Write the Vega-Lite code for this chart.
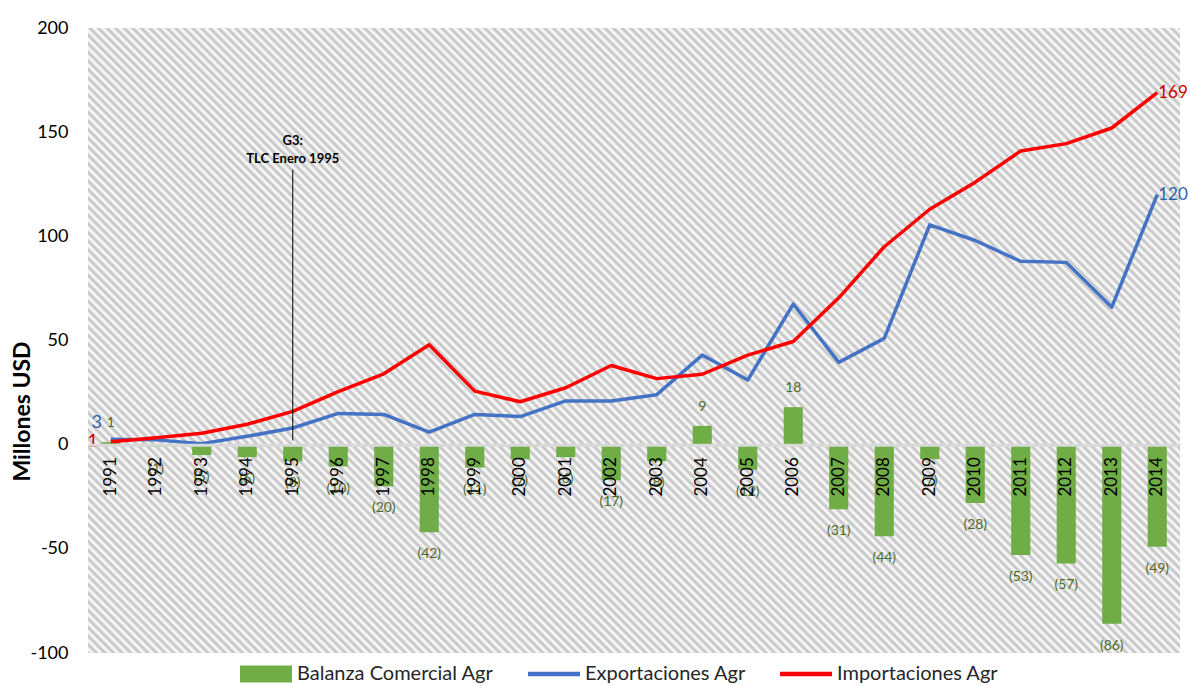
{
"$schema":"https://vega.github.io/schema/vega-lite/v6.json",
"width":1092,"height":625,
"autosize":{"type":"none"},
"padding":{"left":88,"top":28,"right":10,"bottom":33},
"background":"white",
"config":{"font":"Lato","view":{"stroke":null,"fill":{"gradient":"linear","x1":0,"y1":1,"x2":1.18439,"y2":0.32213,"stops":[
{"offset":0,"color":"silver"},{"offset":0.0025,"color":"white"},{"offset":0.005,"color":"silver"},{"offset":0.0075,"color":"white"},
{"offset":0.01,"color":"silver"},{"offset":0.0125,"color":"white"},{"offset":0.015,"color":"silver"},{"offset":0.0175,"color":"white"},
{"offset":0.02,"color":"silver"},{"offset":0.0225,"color":"white"},{"offset":0.025,"color":"silver"},{"offset":0.0275,"color":"white"},
{"offset":0.03,"color":"silver"},{"offset":0.0325,"color":"white"},{"offset":0.035,"color":"silver"},{"offset":0.0375,"color":"white"},
{"offset":0.04,"color":"silver"},{"offset":0.0425,"color":"white"},{"offset":0.045,"color":"silver"},{"offset":0.0475,"color":"white"},
{"offset":0.05,"color":"silver"},{"offset":0.0525,"color":"white"},{"offset":0.055,"color":"silver"},{"offset":0.0575,"color":"white"},
{"offset":0.06,"color":"silver"},{"offset":0.0625,"color":"white"},{"offset":0.065,"color":"silver"},{"offset":0.0675,"color":"white"},
{"offset":0.07,"color":"silver"},{"offset":0.0725,"color":"white"},{"offset":0.075,"color":"silver"},{"offset":0.0775,"color":"white"},
{"offset":0.08,"color":"silver"},{"offset":0.0825,"color":"white"},{"offset":0.085,"color":"silver"},{"offset":0.0875,"color":"white"},
{"offset":0.09,"color":"silver"},{"offset":0.0925,"color":"white"},{"offset":0.095,"color":"silver"},{"offset":0.0975,"color":"white"},
{"offset":0.10,"color":"silver"},{"offset":0.1025,"color":"white"},{"offset":0.105,"color":"silver"},{"offset":0.1075,"color":"white"},
{"offset":0.11,"color":"silver"},{"offset":0.1125,"color":"white"},{"offset":0.115,"color":"silver"},{"offset":0.1175,"color":"white"},
{"offset":0.12,"color":"silver"},{"offset":0.1225,"color":"white"},{"offset":0.125,"color":"silver"},{"offset":0.1275,"color":"white"},
{"offset":0.13,"color":"silver"},{"offset":0.1325,"color":"white"},{"offset":0.135,"color":"silver"},{"offset":0.1375,"color":"white"},
{"offset":0.14,"color":"silver"},{"offset":0.1425,"color":"white"},{"offset":0.145,"color":"silver"},{"offset":0.1475,"color":"white"},
{"offset":0.15,"color":"silver"},{"offset":0.1525,"color":"white"},{"offset":0.155,"color":"silver"},{"offset":0.1575,"color":"white"},
{"offset":0.16,"color":"silver"},{"offset":0.1625,"color":"white"},{"offset":0.165,"color":"silver"},{"offset":0.1675,"color":"white"},
{"offset":0.17,"color":"silver"},{"offset":0.1725,"color":"white"},{"offset":0.175,"color":"silver"},{"offset":0.1775,"color":"white"},
{"offset":0.18,"color":"silver"},{"offset":0.1825,"color":"white"},{"offset":0.185,"color":"silver"},{"offset":0.1875,"color":"white"},
{"offset":0.19,"color":"silver"},{"offset":0.1925,"color":"white"},{"offset":0.195,"color":"silver"},{"offset":0.1975,"color":"white"},
{"offset":0.20,"color":"silver"},{"offset":0.2025,"color":"white"},{"offset":0.205,"color":"silver"},{"offset":0.2075,"color":"white"},
{"offset":0.21,"color":"silver"},{"offset":0.2125,"color":"white"},{"offset":0.215,"color":"silver"},{"offset":0.2175,"color":"white"},
{"offset":0.22,"color":"silver"},{"offset":0.2225,"color":"white"},{"offset":0.225,"color":"silver"},{"offset":0.2275,"color":"white"},
{"offset":0.23,"color":"silver"},{"offset":0.2325,"color":"white"},{"offset":0.235,"color":"silver"},{"offset":0.2375,"color":"white"},
{"offset":0.24,"color":"silver"},{"offset":0.2425,"color":"white"},{"offset":0.245,"color":"silver"},{"offset":0.2475,"color":"white"},
{"offset":0.25,"color":"silver"},{"offset":0.2525,"color":"white"},{"offset":0.255,"color":"silver"},{"offset":0.2575,"color":"white"},
{"offset":0.26,"color":"silver"},{"offset":0.2625,"color":"white"},{"offset":0.265,"color":"silver"},{"offset":0.2675,"color":"white"},
{"offset":0.27,"color":"silver"},{"offset":0.2725,"color":"white"},{"offset":0.275,"color":"silver"},{"offset":0.2775,"color":"white"},
{"offset":0.28,"color":"silver"},{"offset":0.2825,"color":"white"},{"offset":0.285,"color":"silver"},{"offset":0.2875,"color":"white"},
{"offset":0.29,"color":"silver"},{"offset":0.2925,"color":"white"},{"offset":0.295,"color":"silver"},{"offset":0.2975,"color":"white"},
{"offset":0.30,"color":"silver"},{"offset":0.3025,"color":"white"},{"offset":0.305,"color":"silver"},{"offset":0.3075,"color":"white"},
{"offset":0.31,"color":"silver"},{"offset":0.3125,"color":"white"},{"offset":0.315,"color":"silver"},{"offset":0.3175,"color":"white"},
{"offset":0.32,"color":"silver"},{"offset":0.3225,"color":"white"},{"offset":0.325,"color":"silver"},{"offset":0.3275,"color":"white"},
{"offset":0.33,"color":"silver"},{"offset":0.3325,"color":"white"},{"offset":0.335,"color":"silver"},{"offset":0.3375,"color":"white"},
{"offset":0.34,"color":"silver"},{"offset":0.3425,"color":"white"},{"offset":0.345,"color":"silver"},{"offset":0.3475,"color":"white"},
{"offset":0.35,"color":"silver"},{"offset":0.3525,"color":"white"},{"offset":0.355,"color":"silver"},{"offset":0.3575,"color":"white"},
{"offset":0.36,"color":"silver"},{"offset":0.3625,"color":"white"},{"offset":0.365,"color":"silver"},{"offset":0.3675,"color":"white"},
{"offset":0.37,"color":"silver"},{"offset":0.3725,"color":"white"},{"offset":0.375,"color":"silver"},{"offset":0.3775,"color":"white"},
{"offset":0.38,"color":"silver"},{"offset":0.3825,"color":"white"},{"offset":0.385,"color":"silver"},{"offset":0.3875,"color":"white"},
{"offset":0.39,"color":"silver"},{"offset":0.3925,"color":"white"},{"offset":0.395,"color":"silver"},{"offset":0.3975,"color":"white"},
{"offset":0.40,"color":"silver"},{"offset":0.4025,"color":"white"},{"offset":0.405,"color":"silver"},{"offset":0.4075,"color":"white"},
{"offset":0.41,"color":"silver"},{"offset":0.4125,"color":"white"},{"offset":0.415,"color":"silver"},{"offset":0.4175,"color":"white"},
{"offset":0.42,"color":"silver"},{"offset":0.4225,"color":"white"},{"offset":0.425,"color":"silver"},{"offset":0.4275,"color":"white"},
{"offset":0.43,"color":"silver"},{"offset":0.4325,"color":"white"},{"offset":0.435,"color":"silver"},{"offset":0.4375,"color":"white"},
{"offset":0.44,"color":"silver"},{"offset":0.4425,"color":"white"},{"offset":0.445,"color":"silver"},{"offset":0.4475,"color":"white"},
{"offset":0.45,"color":"silver"},{"offset":0.4525,"color":"white"},{"offset":0.455,"color":"silver"},{"offset":0.4575,"color":"white"},
{"offset":0.46,"color":"silver"},{"offset":0.4625,"color":"white"},{"offset":0.465,"color":"silver"},{"offset":0.4675,"color":"white"},
{"offset":0.47,"color":"silver"},{"offset":0.4725,"color":"white"},{"offset":0.475,"color":"silver"},{"offset":0.4775,"color":"white"},
{"offset":0.48,"color":"silver"},{"offset":0.4825,"color":"white"},{"offset":0.485,"color":"silver"},{"offset":0.4875,"color":"white"},
{"offset":0.49,"color":"silver"},{"offset":0.4925,"color":"white"},{"offset":0.495,"color":"silver"},{"offset":0.4975,"color":"white"},
{"offset":0.50,"color":"silver"},{"offset":0.5025,"color":"white"},{"offset":0.505,"color":"silver"},{"offset":0.5075,"color":"white"},
{"offset":0.51,"color":"silver"},{"offset":0.5125,"color":"white"},{"offset":0.515,"color":"silver"},{"offset":0.5175,"color":"white"},
{"offset":0.52,"color":"silver"},{"offset":0.5225,"color":"white"},{"offset":0.525,"color":"silver"},{"offset":0.5275,"color":"white"},
{"offset":0.53,"color":"silver"},{"offset":0.5325,"color":"white"},{"offset":0.535,"color":"silver"},{"offset":0.5375,"color":"white"},
{"offset":0.54,"color":"silver"},{"offset":0.5425,"color":"white"},{"offset":0.545,"color":"silver"},{"offset":0.5475,"color":"white"},
{"offset":0.55,"color":"silver"},{"offset":0.5525,"color":"white"},{"offset":0.555,"color":"silver"},{"offset":0.5575,"color":"white"},
{"offset":0.56,"color":"silver"},{"offset":0.5625,"color":"white"},{"offset":0.565,"color":"silver"},{"offset":0.5675,"color":"white"},
{"offset":0.57,"color":"silver"},{"offset":0.5725,"color":"white"},{"offset":0.575,"color":"silver"},{"offset":0.5775,"color":"white"},
{"offset":0.58,"color":"silver"},{"offset":0.5825,"color":"white"},{"offset":0.585,"color":"silver"},{"offset":0.5875,"color":"white"},
{"offset":0.59,"color":"silver"},{"offset":0.5925,"color":"white"},{"offset":0.595,"color":"silver"},{"offset":0.5975,"color":"white"},
{"offset":0.60,"color":"silver"},{"offset":0.6025,"color":"white"},{"offset":0.605,"color":"silver"},{"offset":0.6075,"color":"white"},
{"offset":0.61,"color":"silver"},{"offset":0.6125,"color":"white"},{"offset":0.615,"color":"silver"},{"offset":0.6175,"color":"white"},
{"offset":0.62,"color":"silver"},{"offset":0.6225,"color":"white"},{"offset":0.625,"color":"silver"},{"offset":0.6275,"color":"white"},
{"offset":0.63,"color":"silver"},{"offset":0.6325,"color":"white"},{"offset":0.635,"color":"silver"},{"offset":0.6375,"color":"white"},
{"offset":0.64,"color":"silver"},{"offset":0.6425,"color":"white"},{"offset":0.645,"color":"silver"},{"offset":0.6475,"color":"white"},
{"offset":0.65,"color":"silver"},{"offset":0.6525,"color":"white"},{"offset":0.655,"color":"silver"},{"offset":0.6575,"color":"white"},
{"offset":0.66,"color":"silver"},{"offset":0.6625,"color":"white"},{"offset":0.665,"color":"silver"},{"offset":0.6675,"color":"white"},
{"offset":0.67,"color":"silver"},{"offset":0.6725,"color":"white"},{"offset":0.675,"color":"silver"},{"offset":0.6775,"color":"white"},
{"offset":0.68,"color":"silver"},{"offset":0.6825,"color":"white"},{"offset":0.685,"color":"silver"},{"offset":0.6875,"color":"white"},
{"offset":0.69,"color":"silver"},{"offset":0.6925,"color":"white"},{"offset":0.695,"color":"silver"},{"offset":0.6975,"color":"white"},
{"offset":0.70,"color":"silver"},{"offset":0.7025,"color":"white"},{"offset":0.705,"color":"silver"},{"offset":0.7075,"color":"white"},
{"offset":0.71,"color":"silver"},{"offset":0.7125,"color":"white"},{"offset":0.715,"color":"silver"},{"offset":0.7175,"color":"white"},
{"offset":0.72,"color":"silver"},{"offset":0.7225,"color":"white"},{"offset":0.725,"color":"silver"},{"offset":0.7275,"color":"white"},
{"offset":0.73,"color":"silver"},{"offset":0.7325,"color":"white"},{"offset":0.735,"color":"silver"},{"offset":0.7375,"color":"white"},
{"offset":0.74,"color":"silver"},{"offset":0.7425,"color":"white"},{"offset":0.745,"color":"silver"},{"offset":0.7475,"color":"white"},
{"offset":0.75,"color":"silver"},{"offset":0.7525,"color":"white"},{"offset":0.755,"color":"silver"},{"offset":0.7575,"color":"white"},
{"offset":0.76,"color":"silver"},{"offset":0.7625,"color":"white"},{"offset":0.765,"color":"silver"},{"offset":0.7675,"color":"white"},
{"offset":0.77,"color":"silver"},{"offset":0.7725,"color":"white"},{"offset":0.775,"color":"silver"},{"offset":0.7775,"color":"white"},
{"offset":0.78,"color":"silver"},{"offset":0.7825,"color":"white"},{"offset":0.785,"color":"silver"},{"offset":0.7875,"color":"white"},
{"offset":0.79,"color":"silver"},{"offset":0.7925,"color":"white"},{"offset":0.795,"color":"silver"},{"offset":0.7975,"color":"white"},
{"offset":0.80,"color":"silver"},{"offset":0.8025,"color":"white"},{"offset":0.805,"color":"silver"},{"offset":0.8075,"color":"white"},
{"offset":0.81,"color":"silver"},{"offset":0.8125,"color":"white"},{"offset":0.815,"color":"silver"},{"offset":0.8175,"color":"white"},
{"offset":0.82,"color":"silver"},{"offset":0.8225,"color":"white"},{"offset":0.825,"color":"silver"},{"offset":0.8275,"color":"white"},
{"offset":0.83,"color":"silver"},{"offset":0.8325,"color":"white"},{"offset":0.835,"color":"silver"},{"offset":0.8375,"color":"white"},
{"offset":0.84,"color":"silver"},{"offset":0.8425,"color":"white"},{"offset":0.845,"color":"silver"},{"offset":0.8475,"color":"white"},
{"offset":0.85,"color":"silver"},{"offset":0.8525,"color":"white"},{"offset":0.855,"color":"silver"},{"offset":0.8575,"color":"white"},
{"offset":0.86,"color":"silver"},{"offset":0.8625,"color":"white"},{"offset":0.865,"color":"silver"},{"offset":0.8675,"color":"white"},
{"offset":0.87,"color":"silver"},{"offset":0.8725,"color":"white"},{"offset":0.875,"color":"silver"},{"offset":0.8775,"color":"white"},
{"offset":0.88,"color":"silver"},{"offset":0.8825,"color":"white"},{"offset":0.885,"color":"silver"},{"offset":0.8875,"color":"white"},
{"offset":0.89,"color":"silver"},{"offset":0.8925,"color":"white"},{"offset":0.895,"color":"silver"},{"offset":0.8975,"color":"white"},
{"offset":0.90,"color":"silver"},{"offset":0.9025,"color":"white"},{"offset":0.905,"color":"silver"},{"offset":0.9075,"color":"white"},
{"offset":0.91,"color":"silver"},{"offset":0.9125,"color":"white"},{"offset":0.915,"color":"silver"},{"offset":0.9175,"color":"white"},
{"offset":0.92,"color":"silver"},{"offset":0.9225,"color":"white"},{"offset":0.925,"color":"silver"},{"offset":0.9275,"color":"white"},
{"offset":0.93,"color":"silver"},{"offset":0.9325,"color":"white"},{"offset":0.935,"color":"silver"},{"offset":0.9375,"color":"white"},
{"offset":0.94,"color":"silver"},{"offset":0.9425,"color":"white"},{"offset":0.945,"color":"silver"},{"offset":0.9475,"color":"white"},
{"offset":0.95,"color":"silver"},{"offset":0.9525,"color":"white"},{"offset":0.955,"color":"silver"},{"offset":0.9575,"color":"white"},
{"offset":0.96,"color":"silver"},{"offset":0.9625,"color":"white"},{"offset":0.965,"color":"silver"},{"offset":0.9675,"color":"white"},
{"offset":0.97,"color":"silver"},{"offset":0.9725,"color":"white"},{"offset":0.975,"color":"silver"},{"offset":0.9775,"color":"white"},
{"offset":0.98,"color":"silver"},{"offset":0.9825,"color":"white"},{"offset":0.985,"color":"silver"},{"offset":0.9875,"color":"white"},
{"offset":0.99,"color":"silver"},{"offset":0.9925,"color":"white"},{"offset":0.995,"color":"silver"},{"offset":0.9975,"color":"white"},
{"offset":1,"color":"silver"}]}},
"axis":{"grid":false,"ticks":false}},
"data":{"values":[
{"year":1991,"series":"Balanza Comercial Agr","value":1.2,"label":"1"},
{"year":1992,"series":"Balanza Comercial Agr","value":-1,"label":"(1)"},
{"year":1993,"series":"Balanza Comercial Agr","value":-5,"label":"(5)"},
{"year":1994,"series":"Balanza Comercial Agr","value":-6,"label":"(6)"},
{"year":1995,"series":"Balanza Comercial Agr","value":-8,"label":"(8)"},
{"year":1996,"series":"Balanza Comercial Agr","value":-10.5,"label":"(10)"},
{"year":1997,"series":"Balanza Comercial Agr","value":-20,"label":"(20)"},
{"year":1998,"series":"Balanza Comercial Agr","value":-42,"label":"(42)"},
{"year":1999,"series":"Balanza Comercial Agr","value":-11,"label":"(11)"},
{"year":2000,"series":"Balanza Comercial Agr","value":-7,"label":"(7)"},
{"year":2001,"series":"Balanza Comercial Agr","value":-6,"label":"(6)"},
{"year":2002,"series":"Balanza Comercial Agr","value":-17,"label":"(17)"},
{"year":2003,"series":"Balanza Comercial Agr","value":-8,"label":"(8)"},
{"year":2004,"series":"Balanza Comercial Agr","value":9,"label":"9"},
{"year":2005,"series":"Balanza Comercial Agr","value":-12,"label":"(12)"},
{"year":2006,"series":"Balanza Comercial Agr","value":18,"label":"18"},
{"year":2007,"series":"Balanza Comercial Agr","value":-31,"label":"(31)"},
{"year":2008,"series":"Balanza Comercial Agr","value":-44,"label":"(44)"},
{"year":2009,"series":"Balanza Comercial Agr","value":-7,"label":"(7)"},
{"year":2010,"series":"Balanza Comercial Agr","value":-28,"label":"(28)"},
{"year":2011,"series":"Balanza Comercial Agr","value":-53,"label":"(53)"},
{"year":2012,"series":"Balanza Comercial Agr","value":-57,"label":"(57)"},
{"year":2013,"series":"Balanza Comercial Agr","value":-86,"label":"(86)"},
{"year":2014,"series":"Balanza Comercial Agr","value":-49,"label":"(49)"},
{"year":1991,"series":"Exportaciones Agr","value":2.6},
{"year":1992,"series":"Exportaciones Agr","value":2.3},
{"year":1993,"series":"Exportaciones Agr","value":0.5},
{"year":1994,"series":"Exportaciones Agr","value":4},
{"year":1995,"series":"Exportaciones Agr","value":8},
{"year":1996,"series":"Exportaciones Agr","value":15},
{"year":1997,"series":"Exportaciones Agr","value":14.5},
{"year":1998,"series":"Exportaciones Agr","value":6},
{"year":1999,"series":"Exportaciones Agr","value":14.5},
{"year":2000,"series":"Exportaciones Agr","value":13.5},
{"year":2001,"series":"Exportaciones Agr","value":21},
{"year":2002,"series":"Exportaciones Agr","value":21},
{"year":2003,"series":"Exportaciones Agr","value":24},
{"year":2004,"series":"Exportaciones Agr","value":43},
{"year":2005,"series":"Exportaciones Agr","value":31},
{"year":2006,"series":"Exportaciones Agr","value":67.5},
{"year":2007,"series":"Exportaciones Agr","value":39.5},
{"year":2008,"series":"Exportaciones Agr","value":51},
{"year":2009,"series":"Exportaciones Agr","value":105.5},
{"year":2010,"series":"Exportaciones Agr","value":98},
{"year":2011,"series":"Exportaciones Agr","value":88},
{"year":2012,"series":"Exportaciones Agr","value":87.5},
{"year":2013,"series":"Exportaciones Agr","value":66},
{"year":2014,"series":"Exportaciones Agr","value":120},
{"year":1991,"series":"Importaciones Agr","value":1.4},
{"year":1992,"series":"Importaciones Agr","value":3.3},
{"year":1993,"series":"Importaciones Agr","value":5.5},
{"year":1994,"series":"Importaciones Agr","value":9.8},
{"year":1995,"series":"Importaciones Agr","value":16},
{"year":1996,"series":"Importaciones Agr","value":25.5},
{"year":1997,"series":"Importaciones Agr","value":34},
{"year":1998,"series":"Importaciones Agr","value":48},
{"year":1999,"series":"Importaciones Agr","value":25.7},
{"year":2000,"series":"Importaciones Agr","value":20.6},
{"year":2001,"series":"Importaciones Agr","value":27.3},
{"year":2002,"series":"Importaciones Agr","value":38},
{"year":2003,"series":"Importaciones Agr","value":31.7},
{"year":2004,"series":"Importaciones Agr","value":33.8},
{"year":2005,"series":"Importaciones Agr","value":43},
{"year":2006,"series":"Importaciones Agr","value":49.5},
{"year":2007,"series":"Importaciones Agr","value":70.5},
{"year":2008,"series":"Importaciones Agr","value":95},
{"year":2009,"series":"Importaciones Agr","value":113},
{"year":2010,"series":"Importaciones Agr","value":126},
{"year":2011,"series":"Importaciones Agr","value":141},
{"year":2012,"series":"Importaciones Agr","value":144.5},
{"year":2013,"series":"Importaciones Agr","value":152},
{"year":2014,"series":"Importaciones Agr","value":169}
]},
"encoding":{"x":{"field":"year","type":"ordinal","scale":{"paddingInner":0.58,"paddingOuter":0.29},
"axis":{"orient":"bottom","offset":-208.33,"title":null,"labelAngle":-90,"labelFontSize":17,"labelColor":"#000","labelPadding":12,"ticks":false,"domainColor":"#d9d9d9","domainWidth":3,"zindex":1}}},
"layer":[
{"transform":[{"filter":"datum.series === 'Balanza Comercial Agr'"}],
"mark":{"type":"bar","color":"#70ad47"},
"encoding":{"y":{"field":"value","type":"quantitative","scale":{"domain":[-100,200],"nice":false},
"axis":{"values":[-100,-50,0,50,100,150,200],"labelExpr":"datum.value < 0 ? '-' + abs(datum.value) : '' + datum.value","labelFontSize":18,"labelColor":"#000","labelPadding":20,"domain":false,"ticks":false,"grid":false,
"title":"Millones USD","titleFontSize":23,"titleFontWeight":"bold","titleColor":"#000","titleX":-66,"titleY":383,"titleAngle":-90,"titleAlign":"center","titleBaseline":"middle"}},
"color":{"field":"series","type":"nominal","scale":{"domain":["Balanza Comercial Agr","Exportaciones Agr","Importaciones Agr"],"range":["#70ad47","#4472c4","#ff0000"]},
"legend":{"orient":"none","legendX":152,"legendY":620,"direction":"horizontal","title":null,"symbolSize":2704,"labelFontSize":20,"labelColor":"#262626","labelOffset":5,"labelLimit":400,"columnPadding":34,
"encode":{"symbols":{"update":{
"shape":{"signal":"datum.value === 'Balanza Comercial Agr' ? 'M-1,-0.33H1V0.33H-1Z' : 'M-1,-0.09H1V0.09H-1Z'"},
"fill":{"signal":"datum.value === 'Balanza Comercial Agr' ? '#70ad47' : (datum.value === 'Exportaciones Agr' ? '#4472c4' : '#ff0000')"},
"stroke":{"value":"transparent"},
"strokeWidth":{"value":0},"opacity":{"value":1}}}}}}}},
{"transform":[{"filter":"datum.series === 'Balanza Comercial Agr' && datum.value < 0"}],
"mark":{"type":"text","dy":22,"fontSize":14,"color":"#4e6b30"},
"encoding":{"y":{"field":"value","type":"quantitative"},"text":{"field":"label"}}},
{"transform":[{"filter":"datum.series === 'Balanza Comercial Agr' && datum.value >= 0"}],
"mark":{"type":"text","dy":-19,"fontSize":14,"color":"#4e6b30"},
"encoding":{"y":{"field":"value","type":"quantitative"},"text":{"field":"label"}}},
{"transform":[{"filter":"datum.series !== 'Balanza Comercial Agr'"}],
"mark":{"type":"line","strokeWidth":3.5,"strokeJoin":"round"},
"encoding":{"y":{"field":"value","type":"quantitative"},"color":{"field":"series","type":"nominal"}}},
{"transform":[{"filter":"datum.series !== 'Balanza Comercial Agr' && datum.year === 2014"}],
"mark":{"type":"text","align":"left","dx":1,"fontSize":17,"baseline":"middle"},
"encoding":{"y":{"field":"value","type":"quantitative"},"text":{"field":"value"},
"color":{"condition":{"test":"datum.series === 'Importaciones Agr'","value":"#d00000"},"value":"#2e64a8"}}},
{"transform":[{"filter":"datum.series === 'Exportaciones Agr' && datum.year === 1991"}],
"mark":{"type":"text","dx":-14,"dy":-16,"fontSize":18,"baseline":"middle","color":"#2e64a8"},
"encoding":{"y":{"field":"value","type":"quantitative"},"text":{"value":"3"}}},
{"transform":[{"filter":"datum.series === 'Importaciones Agr' && datum.year === 1991"}],
"mark":{"type":"text","dx":-18,"dy":0,"fontSize":18,"baseline":"middle","color":"#d00000"},
"encoding":{"y":{"field":"value","type":"quantitative"},"text":{"value":"1"}}},
{"data":{"values":[{"year":1995,"value":132,"value2":2}]},
"mark":{"type":"rule","color":"#000","strokeWidth":1},
"encoding":{"y":{"field":"value","type":"quantitative"},"y2":{"field":"value2"}}},
{"data":{"values":[{"year":1995,"value":146,"text":"G3:"},{"year":1995,"value":137.3,"text":"TLC Enero 1995"}]},
"mark":{"type":"text","fontWeight":"bold","fontSize":13,"color":"#000","baseline":"middle"},
"encoding":{"y":{"field":"value","type":"quantitative"},"text":{"field":"text"}}}
]
}
